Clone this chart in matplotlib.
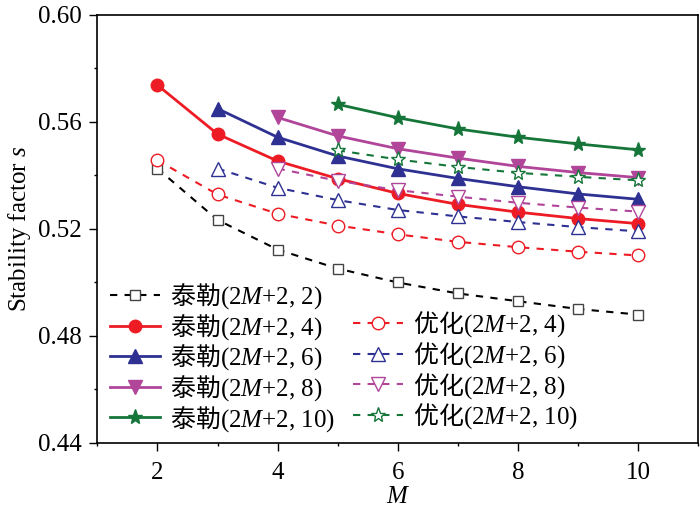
import matplotlib
matplotlib.use('Agg')
import matplotlib.pyplot as plt
from matplotlib.lines import Line2D
from matplotlib.ticker import MultipleLocator, FormatStrFormatter

plt.rcParams['font.family'] = ['Liberation Serif', 'Noto Sans CJK SC']
plt.rcParams['mathtext.fontset'] = 'custom'
plt.rcParams['mathtext.rm'] = 'Liberation Serif'
plt.rcParams['mathtext.it'] = 'Liberation Serif:italic'
plt.rcParams['mathtext.bf'] = 'Liberation Serif:bold'
plt.rcParams['mathtext.sf'] = 'Noto Sans CJK SC'

# data
M_all = [2, 3, 4, 5, 6, 7, 8, 9, 10]

taylor_2 = [0.5425, 0.5233, 0.5122, 0.5051, 0.4999, 0.4958, 0.4929, 0.4900, 0.4879]
taylor_4 = [0.5737, 0.5554, 0.5453, 0.5387, 0.5332, 0.5291, 0.5262, 0.5238, 0.5219]
taylor_6 = [0.5649, 0.5542, 0.5472, 0.5424, 0.5388, 0.5357, 0.5330, 0.5310]
taylor_8 = [0.5616, 0.5547, 0.5499, 0.5464, 0.5433, 0.5410, 0.5391]
taylor_10 = [0.5665, 0.5615, 0.5573, 0.5542, 0.5517, 0.5495]

opt_4 = [0.5456, 0.5328, 0.5256, 0.5212, 0.5179, 0.5151, 0.5131, 0.5114, 0.5100]
opt_6 = [0.5425, 0.5353, 0.5307, 0.5270, 0.5246, 0.5225, 0.5206, 0.5190]
opt_8 = [0.5425, 0.5379, 0.5344, 0.5320, 0.5297, 0.5279, 0.5264]
opt_10 = [0.5493, 0.5459, 0.5431, 0.5409, 0.5394, 0.5381]

RED = '#ED1C24'
BLUE = '#2E3192'
MAG = '#B0459A'
GREEN = '#16763A'


def lab(prefix, n):
    # CJK through mathtext sans (Noto CJK), the rest as plain serif text
    return r'$\mathsf{' + prefix + r'}$(2$\mathit{M}$+2, ' + str(n) + ')'


fig = plt.figure(figsize=(7.0, 5.13), dpi=100)
ax = fig.add_axes([0.139, 0.137, 0.8586, 0.8343])

dash = (0, (3.5, 3.5))
h_t2, = ax.plot(M_all, taylor_2, color='black', ls=dash, lw=1.5, marker='s',
                mfc='white', mec='#444444', ms=7.5, mew=1.0, label=lab('泰勒', 2))
h_t4, = ax.plot(M_all, taylor_4, color=RED, lw=2, marker='o', ms=9, label=lab('泰勒', 4))
h_t6, = ax.plot(M_all[1:], taylor_6, color=BLUE, lw=2, marker='^', ms=9.5, label=lab('泰勒', 6))
h_t8, = ax.plot(M_all[2:], taylor_8, color=MAG, lw=2, marker='v', ms=9.5, label=lab('泰勒', 8))
h_t10, = ax.plot(M_all[3:], taylor_10, color=GREEN, lw=2, marker='*', ms=11, label=lab('泰勒', 10))

h_o4, = ax.plot(M_all, opt_4, color=RED, ls=dash, lw=1.5, marker='o', mfc='white',
                ms=9, mew=1.0, label=lab('优化', 4))
h_o6, = ax.plot(M_all[1:], opt_6, color=BLUE, ls=dash, lw=1.5, marker='^', mfc='white',
                ms=9.5, mew=1.0, label=lab('优化', 6))
h_o8, = ax.plot(M_all[2:], opt_8, color=MAG, ls=dash, lw=1.5, marker='v', mfc='white',
                ms=9.5, mew=1.0, label=lab('优化', 8))
h_o10, = ax.plot(M_all[3:], opt_10, color=GREEN, ls=dash, lw=1.5, marker='*', mfc='white',
                 ms=11, mew=1.0, label=lab('优化', 10))

blank = Line2D([], [], ls='none', marker='none', label=' ')
handles = [h_t2, h_t4, h_t6, h_t8, h_t10, blank, h_o4, h_o6, h_o8, h_o10]
ax.legend(handles=handles, ncol=2, loc='lower left', bbox_to_anchor=(0, -0.008),
          frameon=False, fontsize=18, handlelength=2.0, handletextpad=0.4,
          labelspacing=0.03, columnspacing=0.73, borderaxespad=0.2, borderpad=0.3)

ax.set_xlim(1, 11)
ax.set_ylim(0.44, 0.60)
ax.xaxis.set_major_locator(MultipleLocator(2))
ax.xaxis.set_minor_locator(MultipleLocator(1))
ax.yaxis.set_major_locator(MultipleLocator(0.04))
ax.yaxis.set_minor_locator(MultipleLocator(0.02))
ax.yaxis.set_major_formatter(FormatStrFormatter('%.2f'))
ax.tick_params(which='major', direction='out', length=6, width=1.0, labelsize=18)
ax.tick_params(axis='x', which='major', pad=8)
ax.tick_params(axis='y', which='major', pad=5)
ax.tick_params(which='minor', direction='out', length=2.5, width=1.0)
for s in ax.spines.values():
    s.set_linewidth(1.2)

ax.set_xlabel('$M$', fontsize=18, labelpad=1)
ax.set_ylabel('Stability factor $s$', fontsize=18, labelpad=4)

fig.savefig('out.png', dpi=100)
